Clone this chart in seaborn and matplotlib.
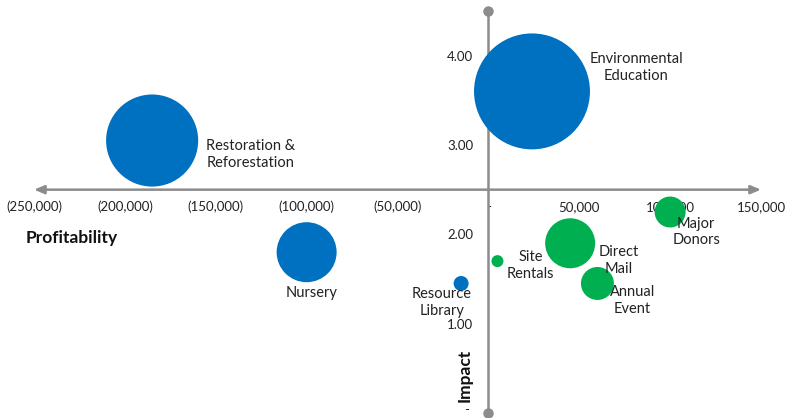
import matplotlib
matplotlib.use("Agg")
import matplotlib.pyplot as plt
import seaborn as sns
import pandas as pd

# ---- data ----
names = ["Environmental\nEducation", "Restoration &\nReforestation", "Nursery",
         "Resource\nLibrary", "Site\nRentals", "Direct\nMail", "Annual\nEvent",
         "Major\nDonors"]
profitability = [24000, -185000, -100000, -15000, 5000, 45000, 60000, 100000]
impact = [3.60, 3.05, 1.80, 1.45, 1.70, 1.90, 1.45, 2.25]
bubble_size = [3360, 2120, 900, 56, 36, 625, 272, 240]
group = ["Program", "Program", "Program", "Program",
         "Revenue", "Revenue", "Revenue", "Revenue"]

x_ticks = [-250000, -200000, -150000, -100000, -50000, 0, 50000, 100000, 150000]
x_ticklabels = ["(250,000)", "(200,000)", "(150,000)", "(100,000)", "(50,000)",
                "-", "50,000", "100,000", "150,000"]
y_ticks = [0, 1, 2, 3, 4]
y_ticklabels = ["-", "1.00", "2.00", "3.00", "4.00"]

# ---- styles ----
label_offsets = [(104, 24), (98, -14), (5, -41), (-19, -19), (33, -4),
                 (49, -17), (35, -17), (26, -20)]
palette = {"Program": "#0070C0", "Revenue": "#00B050"}
axis_color = "#8C8C8C"

sns.set_style("white")
plt.rcParams["font.family"] = ["Lato", "DejaVu Sans"]

df = pd.DataFrame({"name": names, "profit": profitability, "impact": impact,
                   "size": bubble_size, "group": group})

fig = plt.figure(figsize=(7.86, 4.18), dpi=100)
ax = fig.add_axes([34 / 786, 1 - 413 / 418, (761 - 34) / 786, (413 - 11) / 418])

k = (2 * 0.72) ** 2
smax = max(bubble_size)
sns.scatterplot(data=df, x="profit", y="impact", size="size", hue="group",
                palette=palette, sizes=(0, smax * k), size_norm=(0, smax),
                linewidth=0, alpha=1, legend=False, ax=ax, zorder=3)

ax.set_xlim(-250000, 150000)
ax.set_ylim(0, 4.5)

# axes crossing at (0, 2.5)
for s in ["top", "right"]:
    ax.spines[s].set_visible(False)
ax.spines["bottom"].set_position(("data", 2.5))
ax.spines["left"].set_position(("data", 0))
ax.spines["bottom"].set_visible(False)
ax.spines["left"].set_visible(False)

ax.set_xticks(x_ticks)
ax.set_xticklabels(x_ticklabels)
ax.set_yticks(y_ticks)
ax.set_yticklabels(y_ticklabels)
ax.tick_params(axis="x", length=0, pad=8, labelsize=9.5, colors="#222222")
ax.tick_params(axis="y", length=0, pad=11, labelsize=9.5, colors="#222222")
ax.set_xlabel("")
ax.set_ylabel("")

# the zero label of the y axis sits at the very bottom edge: draw it a touch higher
for lbl in ax.get_yticklabels():
    if lbl.get_text() == "-":
        lbl.set_visible(False)
        ax.annotate(lbl.get_text(), (0, 0), xytext=(-19, 3),
                    textcoords="offset pixels", ha="right", va="center",
                    fontsize=9.5, color="#222222", annotation_clip=False)

# x axis with arrows
ax.annotate("", xy=(150000, 2.5), xytext=(-250000, 2.5),
            arrowprops=dict(arrowstyle="<|-|>,head_length=0.6,head_width=0.25",
                            color=axis_color, lw=1.8, shrinkA=0, shrinkB=0),
            zorder=1, annotation_clip=False)
# y axis with dots
ax.plot([0, 0], [0, 4.5], color=axis_color, lw=1.8, marker="o", markersize=6.5,
        zorder=1, clip_on=False)

for nm, xv, yv, off in zip(names, profitability, impact, label_offsets):
    ax.annotate(nm, (xv, yv), xytext=off, textcoords="offset pixels",
                ha="center", va="center", fontsize=10.5, color="#222222",
                linespacing=1.25, zorder=4)

fig.text(26 / 786, 1 - 238 / 418, "Profitability", fontsize=12.5,
         fontweight="bold", ha="left", va="center", color="#111111")
fig.text(465 / 786, 1 - 375 / 418, "Impact", fontsize=12.5, rotation=90,
         fontweight="bold", ha="center", va="center", color="#111111")

fig.savefig("out.png", dpi=100)
